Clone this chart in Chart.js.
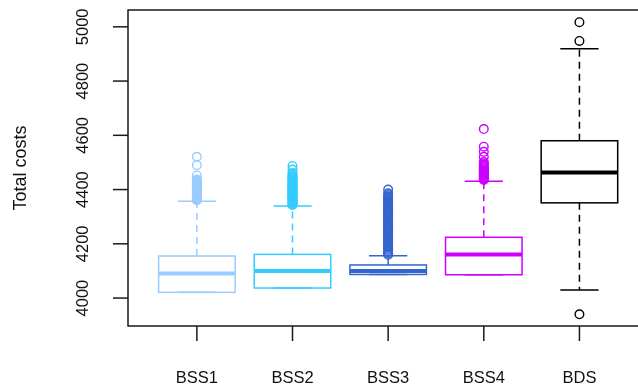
<!DOCTYPE html>
<html>
<head>
<meta charset="utf-8">
<script src="https://cdn.jsdelivr.net/npm/chart.js@4/dist/chart.umd.min.js"></script>
<style>
  html, body { margin: 0; padding: 0; background: #fff; width: 638px; height: 391px; overflow: hidden; }
  #wrap { width: 654px; height: 391px; position: relative; }
</style>
</head>
<body>
<div id="wrap"><canvas id="c" width="654" height="391"></canvas></div>
<script>
// Box plot of total costs per strategy
const categories = ['BSS1', 'BSS2', 'BSS3', 'BSS4', 'BDS'];
const colors = ['#99CCFF', '#33CCFF', '#3366CC', '#CC00FF', '#000000'];

const lowerWhisker = [4021, 4037, 4087, 4086, 4030];
const q1           = [4021, 4037, 4087, 4086, 4351];
const medians      = [4091, 4100, 4100, 4161, 4463];
const q3           = [4155, 4161, 4122, 4224, 4580];
const upperWhisker = [4357, 4339, 4156, 4431, 4919];

const outliersBSS1 = [4361, 4363, 4366, 4368, 4371, 4374, 4377, 4379, 4382, 4385, 4388, 4391,
  4394, 4397, 4400, 4403, 4406, 4409, 4412, 4415, 4418, 4421, 4424, 4428, 4431, 4434, 4437,
  4452, 4490, 4521];
const outliersBSS2 = [4343, 4346, 4349, 4352, 4355, 4358, 4361, 4364, 4367, 4370, 4373, 4376,
  4379, 4382, 4385, 4388, 4391, 4394, 4397, 4400, 4403, 4406, 4409, 4412, 4415, 4418, 4421,
  4424, 4427, 4431, 4434, 4438, 4442, 4446, 4450, 4455, 4461, 4474, 4487];
const outliersBSS3 = [4160, 4164, 4169, 4173, 4178, 4182, 4187, 4191, 4196, 4200, 4205, 4209,
  4214, 4218, 4223, 4227, 4232, 4236, 4241, 4245, 4250, 4254, 4259, 4263, 4268, 4272, 4277,
  4281, 4286, 4290, 4295, 4299, 4304, 4308, 4313, 4317, 4322, 4326, 4331, 4335, 4340, 4344,
  4349, 4353, 4358, 4363, 4368, 4374, 4380, 4386, 4400];
const outliersBSS4 = [4435, 4438, 4441, 4444, 4447, 4450, 4453, 4456, 4459, 4462, 4465, 4468,
  4471, 4475, 4479, 4483, 4487, 4491, 4497, 4502, 4521, 4539, 4558, 4623];
const outliersBDS = [3940, 4948, 5017];
const outliers = [outliersBSS1, outliersBSS2, outliersBSS3, outliersBSS4, outliersBDS];

const yTicks = [4000, 4200, 4400, 4600, 4800, 5000];
const yTitle = 'Total costs';

const FONT = '"Liberation Sans", Arial, sans-serif';

const boxplotPlugin = {
  id: 'rBoxplot',
  beforeDatasetsDraw(chart) {
    const { ctx, chartArea: a, scales: { x, y } } = chart;
    ctx.save();
    ctx.lineCap = 'butt';

    // frame
    ctx.strokeStyle = '#1a1a1a';
    ctx.lineWidth = 1.5;
    ctx.strokeRect(a.left, a.top, a.right - a.left, a.bottom - a.top);

    // y axis ticks and labels
    ctx.fillStyle = '#111';
    ctx.font = '16.5px ' + FONT;
    yTicks.forEach(v => {
      const py = y.getPixelForValue(v);
      ctx.beginPath();
      ctx.moveTo(a.left - 15, py);
      ctx.lineTo(a.left, py);
      ctx.stroke();
      ctx.save();
      ctx.translate(a.left - 44.5, py);
      ctx.rotate(-Math.PI / 2);
      ctx.textAlign = 'center';
      ctx.textBaseline = 'middle';
      ctx.fillText(String(v), 0, 0);
      ctx.restore();
    });

    // y axis title
    ctx.save();
    ctx.font = '18px ' + FONT;
    ctx.translate(21, (a.top + a.bottom) / 2);
    ctx.rotate(-Math.PI / 2);
    ctx.textAlign = 'center';
    ctx.textBaseline = 'middle';
    ctx.fillText(yTitle, 0, 0);
    ctx.restore();

    // x axis ticks and labels
    categories.forEach((c, i) => {
      const px = x.getPixelForValue(i + 1);
      ctx.beginPath();
      ctx.moveTo(px, a.bottom);
      ctx.lineTo(px, a.bottom + 15);
      ctx.stroke();
      ctx.textAlign = 'center';
      ctx.textBaseline = 'middle';
      ctx.fillText(c, px, a.bottom + 52);
    });

    // boxes, whiskers, staples, medians
    categories.forEach((c, i) => {
      const xc = x.getPixelForValue(i + 1);
      const half = x.getPixelForValue(i + 1.4) - xc;
      const yLo = y.getPixelForValue(lowerWhisker[i]);
      const yQ1 = y.getPixelForValue(q1[i]);
      const yMed = y.getPixelForValue(medians[i]);
      const yQ3 = y.getPixelForValue(q3[i]);
      const yHi = y.getPixelForValue(upperWhisker[i]);
      ctx.strokeStyle = colors[i];

      // dashed whiskers
      ctx.lineWidth = 1.5;
      ctx.setLineDash([7, 5]);
      ctx.beginPath();
      ctx.moveTo(xc, yQ3); ctx.lineTo(xc, yHi);
      ctx.moveTo(xc, yQ1); ctx.lineTo(xc, yLo);
      ctx.stroke();
      ctx.setLineDash([]);

      // staples
      ctx.beginPath();
      ctx.moveTo(xc - half / 2, yHi); ctx.lineTo(xc + half / 2, yHi);
      ctx.moveTo(xc - half / 2, yLo); ctx.lineTo(xc + half / 2, yLo);
      ctx.stroke();

      // box
      ctx.strokeRect(xc - half, yQ3, 2 * half, yQ1 - yQ3);

      // median
      ctx.lineWidth = 4;
      ctx.beginPath();
      ctx.moveTo(xc - half, yMed); ctx.lineTo(xc + half, yMed);
      ctx.stroke();
    });
    ctx.restore();
  }
};

new Chart(document.getElementById('c'), {
  type: 'scatter',
  data: {
    datasets: categories.map((c, i) => ({
      label: c,
      data: outliers[i].map(v => ({ x: i + 1, y: v })),
      pointRadius: 4.3,
      pointHoverRadius: 4.3,
      pointBorderWidth: 1.4,
      pointBackgroundColor: 'rgba(0,0,0,0)',
      pointBorderColor: colors[i],
      clip: false
    }))
  },
  options: {
    responsive: false,
    animation: false,
    events: [],
    layout: { padding: { left: 128, right: 3, top: 10, bottom: 65 } },
    plugins: { legend: { display: false }, tooltip: { enabled: false } },
    scales: {
      x: { type: 'linear', min: 0.28, max: 5.72, display: false },
      y: { type: 'linear', min: 3897, max: 5062, display: false }
    }
  },
  plugins: [boxplotPlugin]
});
</script>
</body>
</html>
